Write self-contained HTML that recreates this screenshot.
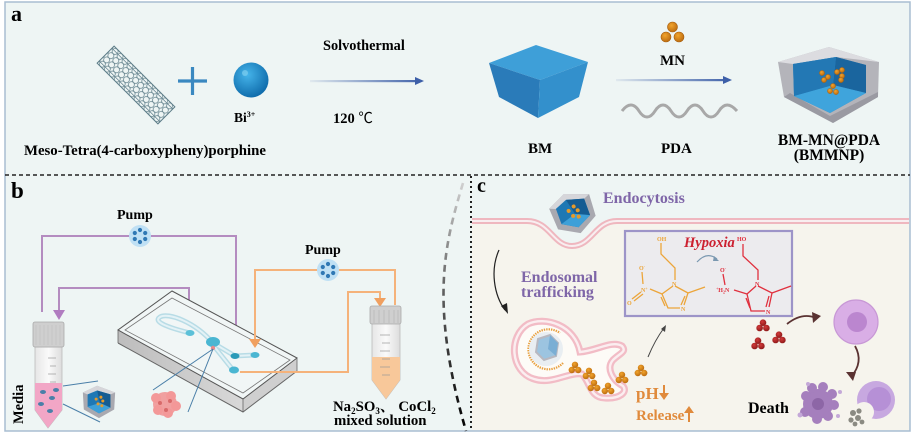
<!DOCTYPE html>
<html><head><meta charset="utf-8">
<style>
html,body{margin:0;padding:0;background:#fff;}
svg{display:block;}
text{font-family:"Liberation Serif","Noto Serif CJK SC",serif;font-weight:bold;}
</style></head><body>
<svg width="916" height="435" viewBox="0 0 916 435" xmlns="http://www.w3.org/2000/svg">
<defs>
 <linearGradient id="arrB1" gradientUnits="userSpaceOnUse" x1="310" y1="0" x2="424" y2="0"><stop offset="0" stop-color="#3d5fa8" stop-opacity="0.08"/><stop offset="1" stop-color="#3d5fa8"/></linearGradient>
 <linearGradient id="arrB2" gradientUnits="userSpaceOnUse" x1="616" y1="0" x2="732" y2="0"><stop offset="0" stop-color="#3d5fa8" stop-opacity="0.08"/><stop offset="1" stop-color="#3d5fa8"/></linearGradient>
 <radialGradient id="sph" cx="0.4" cy="0.35" r="0.7"><stop offset="0" stop-color="#45b4ea"/><stop offset="1" stop-color="#0c68a8"/></radialGradient>
 <pattern id="hex" width="7" height="6" patternUnits="userSpaceOnUse"><circle cx="3.5" cy="3" r="3" fill="none" stroke="#5d7d88" stroke-width="0.7"/></pattern>
 <linearGradient id="dg" gradientUnits="userSpaceOnUse" x1="0" y1="183" x2="0" y2="432"><stop offset="0" stop-color="#d0d0d0"/><stop offset="0.4" stop-color="#666"/><stop offset="1" stop-color="#000"/></linearGradient>
 <linearGradient id="chipL" x1="0" x2="1"><stop offset="0" stop-color="#bdbdbd"/><stop offset="1" stop-color="#d8d8d8"/></linearGradient>
 <linearGradient id="tubeG" x1="0" x2="1"><stop offset="0" stop-color="#e6e6e6"/><stop offset="0.5" stop-color="#fafafa"/><stop offset="1" stop-color="#dcdcdc"/></linearGradient>
 <radialGradient id="ob" cx="0.4" cy="0.35" r="0.7"><stop offset="0" stop-color="#f2a42c"/><stop offset="1" stop-color="#b8680e"/></radialGradient>
 <radialGradient id="rb" cx="0.4" cy="0.35" r="0.7"><stop offset="0" stop-color="#d23a3a"/><stop offset="1" stop-color="#8a1818"/></radialGradient>
 <g id="otri"><circle cx="0" cy="-3.2" r="3.2" fill="url(#ob)"/><circle cx="-3.2" cy="2" r="3.2" fill="url(#ob)"/><circle cx="3.2" cy="2" r="3.2" fill="url(#ob)"/></g>
 <g id="rtri"><circle cx="0" cy="-3.3" r="3.3" fill="url(#rb)"/><circle cx="-3.4" cy="2" r="3.3" fill="url(#rb)"/><circle cx="3.4" cy="2" r="3.3" fill="url(#rb)"/></g>
 <g id="pumpI"><circle r="11" fill="#bfe0f4"/><g fill="#2f78b4"><circle cx="0" cy="-6" r="2.1"/><circle cx="5.2" cy="-3" r="2.1"/><circle cx="5.2" cy="3" r="2.1"/><circle cx="0" cy="6" r="2.1"/><circle cx="-5.2" cy="3" r="2.1"/><circle cx="-5.2" cy="-3" r="2.1"/></g></g>
 <g id="smallcube">
  <polygon points="-17,-9 -2,-16 17,-9 16,9 0,18 -16,9" fill="#a9a9b0"/>
  <polygon points="-17,-9 -2,-16 17,-9 0,-2" fill="#d6d6da"/>
  <polygon points="-12,-7 -2,-11 12,-7 12,7 0,13 -12,6" fill="#1f78b4"/>
  <polygon points="-2,-11 12,-7 12,7 1,2" fill="#155c92"/>
  <polygon points="-12,6 1,2 12,7 0,13" fill="#3ea0d8"/>
  <g fill="#e59a2a"><circle cx="-3" cy="-2" r="1.6"/><circle cx="2" cy="-4" r="1.6"/><circle cx="4" cy="0" r="1.6"/><circle cx="-1" cy="3" r="1.6"/><circle cx="3" cy="5" r="1.6"/></g>
 </g>
</defs>

<!-- frame & backgrounds -->
<rect x="0" y="0" width="916" height="435" fill="#ffffff"/>
<rect x="5" y="2" width="905" height="429" fill="#eef5f4" stroke="#a9bdd2" stroke-width="1.5"/>
<path d="M472 221 L527 221 C550 221 553 246 572 246 C592 246 595 221 617 221 L909 221 L909 430 L472 430 Z" fill="#f6f4ed"/>
<path d="M472 221 L527 221 C550 221 553 246 572 246 C592 246 595 221 617 221 L909 221" fill="none" stroke="#efb7bf" stroke-width="6"/>
<path d="M472 221 L527 221 C550 221 553 246 572 246 C592 246 595 221 617 221 L909 221" fill="none" stroke="#f8eef0" stroke-width="2"/>

<line x1="5" y1="175" x2="910" y2="175" stroke="#222" stroke-width="1.6" stroke-dasharray="4 3"/>
<line x1="471" y1="176" x2="471" y2="431" stroke="#222" stroke-width="2" stroke-dasharray="2 3"/>
<path d="M463 183 C446 240 428 300 466 431" fill="none" stroke="url(#dg)" stroke-width="2.6" stroke-dasharray="7 5"/>

<!-- ================= PANEL A ================= -->
<text x="11" y="21" font-size="22">a</text>
<g transform="translate(136,85) rotate(45)">
 <rect x="-43" y="-12" width="86" height="24" fill="url(#hex)" stroke="#5d7d88" stroke-width="1"/>
 <line x1="-43" y1="-9" x2="43" y2="-9" stroke="#5d7d88" stroke-width="0.7"/>
 <line x1="-43" y1="9" x2="43" y2="9" stroke="#5d7d88" stroke-width="0.7"/>
</g>
<line x1="178" y1="81" x2="207" y2="81" stroke="#3a88c0" stroke-width="3.2"/>
<line x1="192.5" y1="67" x2="192.5" y2="95" stroke="#3a88c0" stroke-width="3.2"/>
<circle cx="251" cy="80" r="17.5" fill="url(#sph)"/>
<circle cx="245" cy="73" r="3" fill="#7fcff0" opacity="0.7"/>
<text x="234" y="122" font-size="13.5">Bi<tspan font-size="8" dy="-5">3+</tspan></text>
<text x="24" y="155" font-size="14.8">Meso-Tetra(4-carboxypheny)porphine</text>
<text x="323" y="50" font-size="14.3">Solvothermal</text>
<rect x="310" y="80" width="106" height="2.2" fill="url(#arrB1)"/>
<polygon points="415,77 424,81 415,85" fill="#3d5fa8"/>
<text x="333" y="123" font-size="14.5">120 <tspan font-family="'Noto Sans CJK SC',sans-serif" font-weight="normal">℃</tspan></text>

<!-- BM cube -->
<polygon points="489,63 536,45 588,62 540,80" fill="#3e9fd8"/>
<polygon points="489,63 540,80 538,118 499,97" fill="#2a7bb9"/>
<polygon points="540,80 588,62 579,97 538,118" fill="#3390cc"/>
<text x="528" y="153" font-size="15">BM</text>
<g stroke="#a65c0c" stroke-width="0.6"><circle cx="672.5" cy="27" r="5" fill="url(#ob)"/><circle cx="666" cy="37" r="5" fill="url(#ob)"/><circle cx="679" cy="37" r="5" fill="url(#ob)"/></g>
<text x="660" y="65" font-size="15">MN</text>
<rect x="616" y="79" width="108" height="2.2" fill="url(#arrB2)"/>
<polygon points="723,76 732,80 723,84" fill="#3d5fa8"/>
<path d="M622 111 C628 103 634 103 639 111 C644 119 650 119 655 111 C660 103 666 103 671 111 C676 119 682 119 687 111 C692 103 698 103 703 111 C708 119 714 119 719 111 C724 103 730 103 737 111" fill="none" stroke="#a8a8a8" stroke-width="3"/>
<text x="661" y="153" font-size="15">PDA</text>
<!-- BMMNP -->
<polygon points="778,62 829,47 879,62 878,97 833,123 784,97" fill="#b4b4ba"/>
<polygon points="778,62 829,47 879,62 836,57 793,64" fill="#dcdce0"/>
<polygon points="784,97 833,123 878,97 878,92 830,116 790,93" fill="#9a9aa2"/>
<polygon points="793,64 836,57 866,65 866,93 830,113 794,96" fill="#2c86c4"/>
<polygon points="836,57 866,65 866,93 833,85" fill="#1a659e"/>
<polygon points="794,96 833,85 866,93 830,113" fill="#3fa4dc"/>
<polygon points="793,64 836,57 833,85 794,96" fill="#2378b4"/>
<g stroke="#a65c0c" stroke-width="0.4">
 <circle cx="822" cy="73" r="2.6" fill="url(#ob)"/><circle cx="828" cy="77" r="2.6" fill="url(#ob)"/><circle cx="824" cy="80" r="2.6" fill="url(#ob)"/>
 <circle cx="837" cy="72" r="2.6" fill="url(#ob)"/><circle cx="842" cy="76" r="2.6" fill="url(#ob)"/><circle cx="842" cy="70" r="2.6" fill="url(#ob)"/><circle cx="841" cy="80" r="2.6" fill="url(#ob)"/>
 <circle cx="833" cy="86" r="2.6" fill="url(#ob)"/><circle cx="830" cy="91" r="2.6" fill="url(#ob)"/><circle cx="836" cy="92" r="2.6" fill="url(#ob)"/>
</g>
<text x="829" y="145" font-size="15.5" text-anchor="middle">BM-MN@PDA</text>
<text x="829" y="160" font-size="15.5" text-anchor="middle">(BMMNP)</text>

<!-- ================= PANEL B ================= -->
<text x="11" y="198" font-size="23">b</text>
<text x="117" y="219" font-size="14">Pump</text>
<text x="305" y="254" font-size="14">Pump</text>

<polyline points="42,312 42,236 236,236 236,342" fill="none" stroke="#b48cc0" stroke-width="2"/>
<polygon points="230,340 242,340 236,350" fill="#b07cc0"/>
<polyline points="189,332 189,288 59,288 59,312" fill="none" stroke="#b48cc0" stroke-width="2"/>
<polygon points="53,310 65,310 59,320" fill="#b07cc0"/>
<use href="#pumpI" x="140" y="236"/>

<!-- chip -->
<polygon points="118,330 243,399 243,412 118,343" fill="url(#chipL)"/>
<polygon points="243,399 297,358 297,371 243,412" fill="#cfcfcf"/>
<polygon points="172,291 297,358 243,399 118,330" fill="#f1f6f6" stroke="#555" stroke-width="1"/>
<polygon points="172,298 290,360 243,393 125,330" fill="none" stroke="#777" stroke-width="0.8"/>
<polyline points="118,343 243,412 297,371" fill="none" stroke="#666" stroke-width="1"/>
<line x1="243" y1="399" x2="243" y2="412" stroke="#666" stroke-width="0.8"/>
<line x1="118" y1="330" x2="118" y2="343" stroke="#666" stroke-width="0.8"/>
<line x1="297" y1="358" x2="297" y2="371" stroke="#666" stroke-width="0.8"/>
<path d="M190 333 C170 328 152 322 160 317 C168 312 195 322 213 343 M213 343 L235 356 L255 355 M213 345 L233 370" fill="none" stroke="#b8dce6" stroke-width="5" stroke-linecap="round"/>
<path d="M190 333 C170 328 152 322 160 317 C168 312 195 322 213 343 M213 343 L235 356 L255 355 M213 345 L233 370" fill="none" stroke="#e4f2f6" stroke-width="2" stroke-linecap="round"/>
<ellipse cx="190" cy="333" rx="4.5" ry="3" fill="#5cc0d8"/>
<ellipse cx="213" cy="342" rx="7" ry="5" fill="#4ab6d2"/>
<circle cx="213" cy="348" r="2.2" fill="#e88a8a"/>
<ellipse cx="235" cy="356" rx="4.5" ry="3" fill="#2a9ab8"/>
<ellipse cx="255" cy="355" rx="4.5" ry="3" fill="#4ab6d2"/>
<ellipse cx="234" cy="370" rx="5" ry="3.5" fill="#4ab6d2"/>
<line x1="213" y1="349" x2="153" y2="390" stroke="#4a7fa8" stroke-width="1"/>
<line x1="213" y1="349" x2="188" y2="412" stroke="#4a7fa8" stroke-width="1"/>

<polyline points="255,341 255,270 395,270 395,305" fill="none" stroke="#f5b27a" stroke-width="2"/>
<polygon points="249,339 261,339 255,348" fill="#f0a060"/>
<polyline points="240,372 348,372 348,292 380,292 380,300" fill="none" stroke="#f5b27a" stroke-width="2"/>
<polygon points="374,298 386,298 380,307" fill="#f0a060"/>
<use href="#pumpI" x="328" y="270"/>

<!-- left tube -->
<path d="M35 347 L35 410 L48 428 L62 410 L62 347 Z" fill="url(#tubeG)" stroke="#bbb" stroke-width="0.8"/>
<path d="M35 383 L35 410 L48 428 L62 410 L62 383 Z" fill="#f2a6c6"/>
<rect x="33" y="322" width="31" height="25" rx="2" fill="#cfcfcf" stroke="#aaa" stroke-width="0.8"/>
<g stroke="#c8c8c8" stroke-width="1.2"><line x1="36" y1="325" x2="36" y2="345"/><line x1="40" y1="325" x2="40" y2="345"/><line x1="44" y1="325" x2="44" y2="345"/><line x1="48" y1="325" x2="48" y2="345"/><line x1="52" y1="325" x2="52" y2="345"/><line x1="56" y1="325" x2="56" y2="345"/><line x1="60" y1="325" x2="60" y2="345"/></g>
<g stroke="#999" stroke-width="0.7"><line x1="48" y1="358" x2="56" y2="358"/><line x1="50" y1="366" x2="56" y2="366"/><line x1="48" y1="374" x2="56" y2="374"/><line x1="50" y1="382" x2="56" y2="382"/></g>
<g fill="#4a7fa8"><ellipse cx="43" cy="392" rx="3" ry="2"/><ellipse cx="52" cy="398" rx="3" ry="2"/><ellipse cx="41" cy="404" rx="3" ry="2"/><ellipse cx="50" cy="411" rx="3" ry="2"/><ellipse cx="56" cy="390" rx="3" ry="2"/></g>
<line x1="63" y1="386" x2="98" y2="381" stroke="#4a7fa8" stroke-width="1"/>
<line x1="63" y1="404" x2="100" y2="422" stroke="#4a7fa8" stroke-width="1"/>
<g transform="translate(99,401) scale(0.95)"><use href="#smallcube"/></g>
<text transform="translate(23,424) rotate(-90)" font-size="14.5">Media</text>
<g>
 <circle cx="165" cy="404" r="12" fill="#f0a0a0"/>
 <g fill="#f39898"><circle cx="156" cy="398" r="5"/><circle cx="171" cy="396" r="5"/><circle cx="176" cy="406" r="5"/><circle cx="158" cy="410" r="5"/><circle cx="168" cy="413" r="5"/></g>
 <g fill="#d86a6a"><circle cx="160" cy="403" r="2"/><circle cx="170" cy="401" r="2"/><circle cx="166" cy="410" r="2"/></g>
</g>

<!-- right tube -->
<path d="M372 323 L372 380 L386 399 L400 380 L400 323 Z" fill="url(#tubeG)" stroke="#bbb" stroke-width="0.8"/>
<path d="M372 357 L372 380 L386 399 L400 380 L400 357 Z" fill="#f8c89a"/>
<rect x="370" y="306" width="31" height="18" rx="2" fill="#cfcfcf" stroke="#aaa" stroke-width="0.8"/>
<g stroke="#c0c0c0" stroke-width="1.2"><line x1="374" y1="310" x2="374" y2="323"/><line x1="379" y1="310" x2="379" y2="323"/><line x1="384" y1="310" x2="384" y2="323"/><line x1="389" y1="310" x2="389" y2="323"/><line x1="394" y1="310" x2="394" y2="323"/><line x1="398" y1="310" x2="398" y2="323"/></g>
<g stroke="#999" stroke-width="0.7"><line x1="380" y1="335" x2="390" y2="335"/><line x1="382" y1="343" x2="390" y2="343"/><line x1="380" y1="351" x2="390" y2="351"/><line x1="382" y1="359" x2="390" y2="359"/><line x1="380" y1="367" x2="390" y2="367"/><line x1="382" y1="375" x2="390" y2="375"/></g>
<text x="333" y="411" font-size="14.8">Na<tspan font-size="9" dy="3">2</tspan><tspan dy="-3">SO</tspan><tspan font-size="9" dy="3">3</tspan><tspan dy="-3" font-family="'Noto Serif CJK SC',serif">、</tspan><tspan> CoCl</tspan><tspan font-size="9" dy="3">2</tspan></text>
<text x="334" y="425" font-size="14.8">mixed solution</text>

<!-- ================= PANEL C ================= -->
<text x="477" y="192" font-size="20">c</text>
<g transform="translate(573,212) rotate(-20) scale(1.25)"><use href="#smallcube"/></g>
<text x="603" y="203" font-size="16" fill="#7f66a8">Endocytosis</text>
<path d="M499 250 C490 270 494 295 505 310" fill="none" stroke="#222" stroke-width="1.2"/>
<polygon points="501,306 508,314 507,303" fill="#222"/>
<text x="521" y="282" font-size="16" fill="#7f66a8">Endosomal</text>
<text x="521" y="297" font-size="16" fill="#7f66a8">trafficking</text>

<!-- molecule box -->
<rect x="625" y="231" width="167" height="85" fill="#ecebee" stroke="#9d94c8" stroke-width="2.2"/>
<g fill="none" stroke="#eca53a" stroke-width="1.3">
 <path d="M661 243 L661 254 L675 268 L675 280"/>
 <path d="M675 286 L688 293 L684 305 M680 308 L668 308 L662 294 L673 286"/>
 <path d="M685 296 L681 305 M665 306 L661 297"/>
 <path d="M688 293 L705 287"/>
 <path d="M662 294 L650 289"/>
 <path d="M643 284 L642 272"/>
 <path d="M641 292 L632 299 M643 294 L634 301"/>
</g>
<g fill="#eca53a" font-family="'Liberation Sans',sans-serif" font-size="6">
 <text x="657" y="241">OH</text><text x="672" y="286">N</text><text x="681" y="311">N</text>
 <text x="641" y="292">N<tspan dy="-2" font-size="4">+</tspan></text>
 <text x="639" y="270">O<tspan dy="-2" font-size="4">-</tspan></text>
 <text x="627" y="305">O</text>
</g>
<text x="684" y="247" font-size="14.5" font-style="italic" fill="#cc2030">Hypoxia</text>
<path d="M697 262 Q707 251 717 259" fill="none" stroke="#7a98b0" stroke-width="1.2"/>
<polygon points="714,256 719,261 713,261" fill="#7a98b0"/>
<g fill="none" stroke="#e0303e" stroke-width="1.3">
 <path d="M743 244 L743 256 L758 270 L758 280"/>
 <path d="M758 286 L772 293 L769 307 M765 311 L751 311 L747 294 L756 286"/>
 <path d="M769 296 L766 307 M750 308 L746 298"/>
 <path d="M772 293 L791 286"/>
 <path d="M747 294 L734 290"/>
 <path d="M725 285 L723 274"/>
</g>
<g fill="#e0303e" font-family="'Liberation Sans',sans-serif" font-size="6">
 <text x="737" y="241">HO</text><text x="755" y="286">N</text><text x="766" y="314">N</text>
 <text x="716" y="292"><tspan font-size="4" dy="-2">+</tspan><tspan dy="2">H</tspan><tspan font-size="4" dy="1.5">2</tspan><tspan dy="-1.5">N</tspan></text>
 <text x="720" y="272">O<tspan dy="-2" font-size="4">-</tspan></text>
</g>

<!-- endosome -->
<path d="M580 352 C575 325 545 316 528 324 C508 336 510 372 534 379 C552 385 568 372 582 374 C590 382 590 398 605 398 C620 399 628 392 623 386 C612 380 606 368 613 360 C620 353 627 352 622 346 C612 340 596 351 580 352 Z" fill="#fdfbf7" stroke="#f2bcc6" stroke-width="7"/>
<path d="M580 352 C575 325 545 316 528 324 C508 336 510 372 534 379 C552 385 568 372 582 374 C590 382 590 398 605 398 C620 399 628 392 623 386 C612 380 606 368 613 360 C620 353 627 352 622 346 C612 340 596 351 580 352 Z" fill="none" stroke="#fbeef0" stroke-width="2.4"/>
<path d="M563 363 A20 20 0 1 1 560 333" fill="none" stroke="#e8a040" stroke-width="2.2" stroke-dasharray="1.4 1"/>
<circle cx="546" cy="349" r="17" fill="#e9eef2"/>
<polygon points="538,339 550,335 558,343 556,356 544,360 536,352" fill="#9cc4e0" stroke="#b8b8c0" stroke-width="2"/>
<polygon points="550,335 558,343 556,356 548,349" fill="#7aaed4"/>
<use href="#otri" x="575" y="368"/>
<use href="#otri" x="589" y="374"/>
<use href="#otri" x="594" y="386"/>
<use href="#otri" x="608" y="389"/>
<use href="#otri" x="622" y="378"/>
<use href="#otri" x="641" y="371"/>
<path d="M648 357 Q655 340 664 328" fill="none" stroke="#444" stroke-width="1"/>
<polygon points="661,329 666,325 665,332" fill="#444"/>
<text x="636" y="399" font-size="17" fill="#e08a3c">pH</text>
<line x1="664" y1="385" x2="664" y2="397" stroke="#e08a3c" stroke-width="2"/>
<polygon points="659,393 669,393 664,400" fill="#e08a3c"/>
<text x="636" y="420" font-size="15" fill="#e08a3c">Release</text>
<line x1="689" y1="422" x2="689" y2="410" stroke="#e08a3c" stroke-width="2"/>
<polygon points="684,413 694,413 689,406" fill="#e08a3c"/>

<!-- red balls -->
<use href="#rtri" x="763" y="326"/>
<use href="#rtri" x="758" y="344"/>
<use href="#rtri" x="779" y="338"/>
<path d="M787 324 Q802 312 816 318" fill="none" stroke="#5a3232" stroke-width="1.8"/>
<polygon points="812,312 821,316 813,323" fill="#5a3232"/>
<!-- cells -->
<circle cx="856" cy="322" r="22" fill="#d9aee6" stroke="#c898d6" stroke-width="1.2"/>
<circle cx="857" cy="322" r="10" fill="#bb86cf"/>
<path d="M855 346 Q864 362 851 377" fill="none" stroke="#5a3232" stroke-width="1.8"/>
<polygon points="846,372 853,381 856,372" fill="#5a3232"/>
<text x="748" y="413" font-size="16">Death</text>
<g fill="#a57fbd">
 <circle cx="818" cy="404" r="15"/>
 <circle cx="806" cy="396" r="5"/><circle cx="812" cy="388" r="5"/><circle cx="823" cy="387" r="5"/><circle cx="832" cy="394" r="5"/><circle cx="834" cy="405" r="5"/><circle cx="828" cy="416" r="5"/><circle cx="817" cy="419" r="5"/><circle cx="805" cy="412" r="5"/>
</g>
<g fill="#c4a8d8"><circle cx="800" cy="415" r="2.5"/><circle cx="838" cy="416" r="2"/><circle cx="840" cy="392" r="2"/><circle cx="808" cy="384" r="2"/></g>
<circle cx="818" cy="404" r="6" fill="#8d66a6"/>
<circle cx="876" cy="400" r="19" fill="#c7a8e0"/>
<circle cx="879" cy="399" r="12" fill="#b690d6"/>
<circle cx="864" cy="412" r="10" fill="#f6f4ed"/>
<g fill="#8a8a82"><circle cx="853" cy="413" r="3"/><circle cx="858" cy="418" r="3"/><circle cx="851" cy="420" r="2.6"/><circle cx="859" cy="411" r="2.6"/><circle cx="855" cy="424" r="2.4"/><circle cx="862" cy="422" r="2.4"/></g>
</svg>
</body></html>
